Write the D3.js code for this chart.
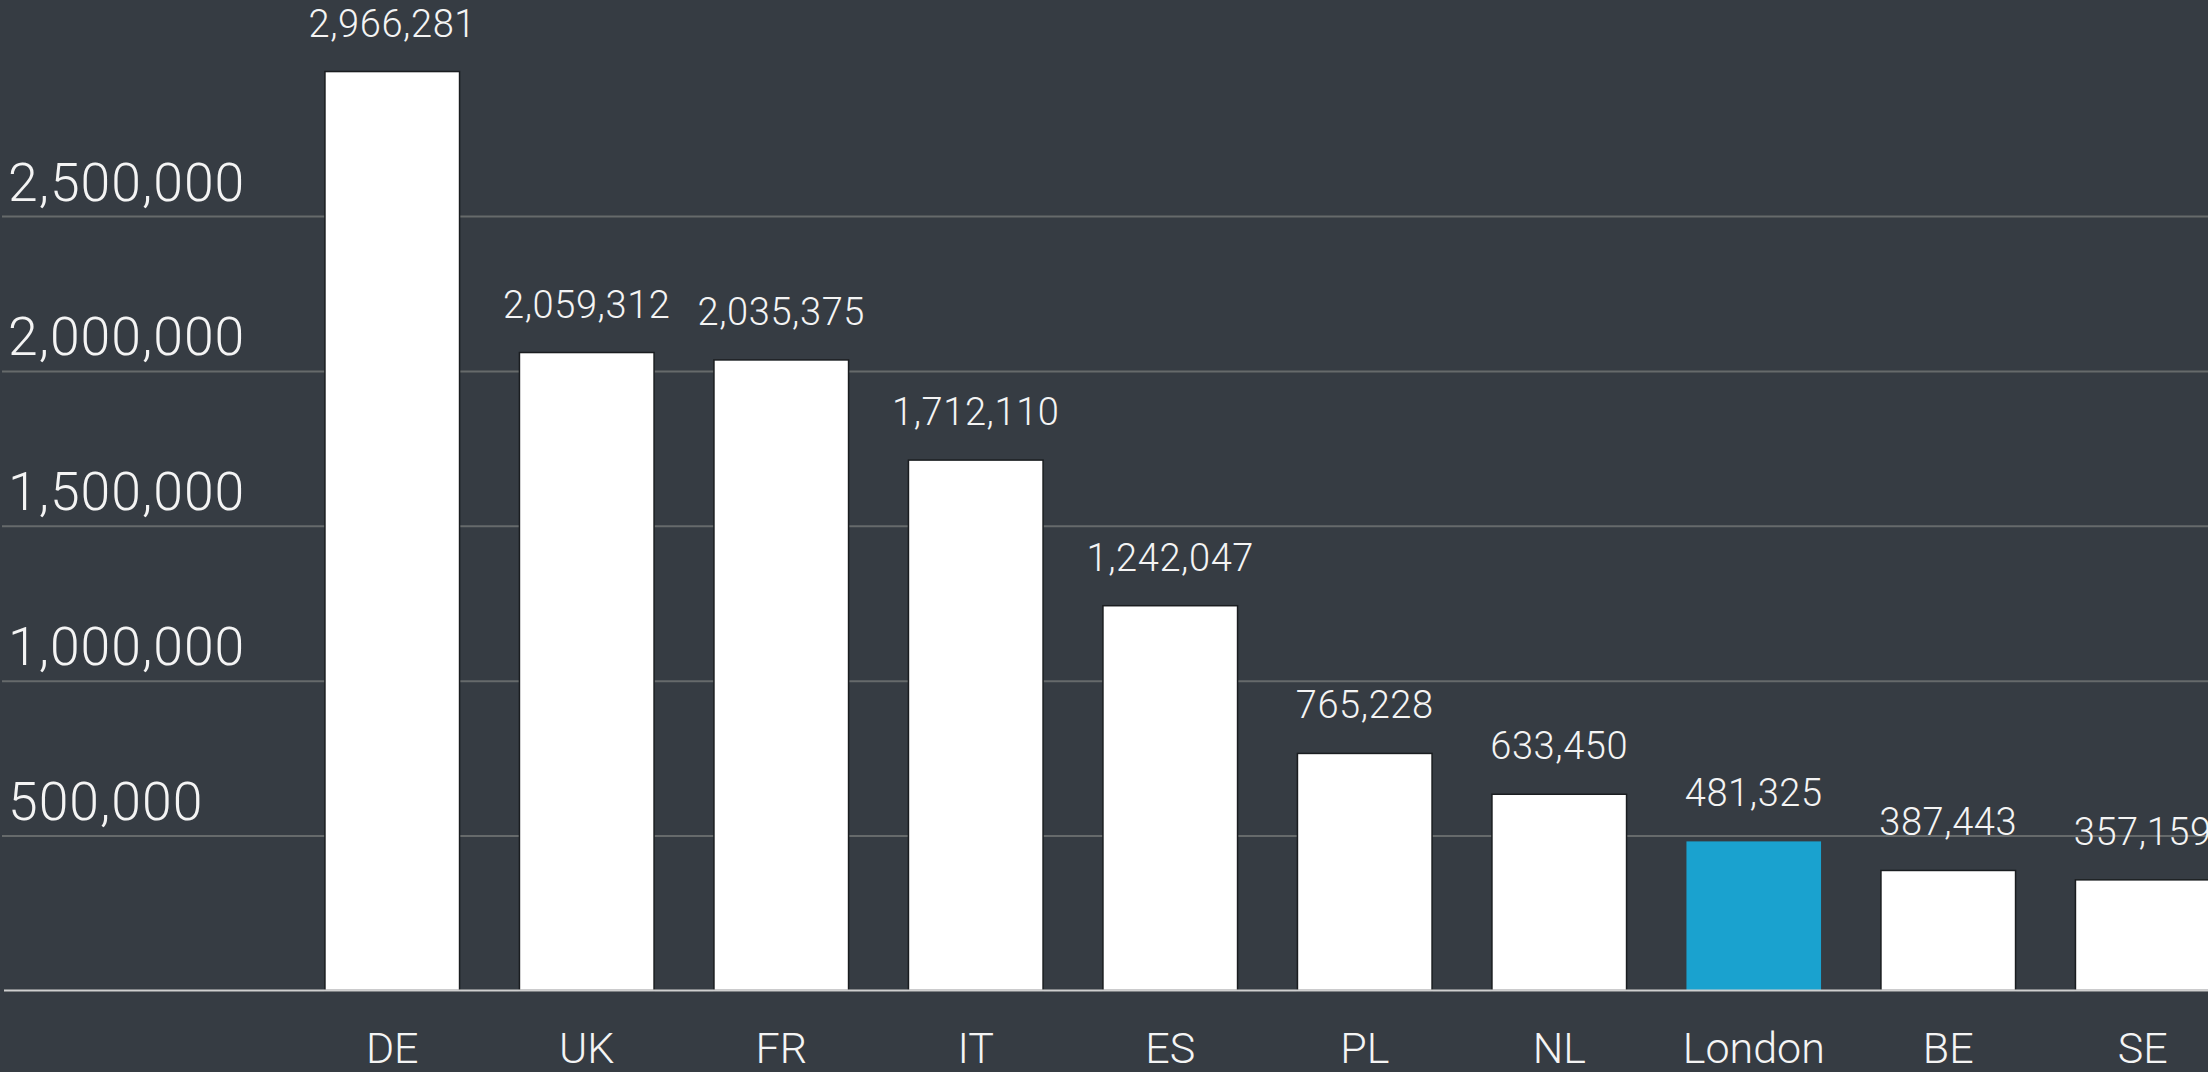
<!DOCTYPE html>
<html>
<head>
<meta charset="utf-8">
<script src="https://cdn.jsdelivr.net/npm/d3@7"></script>
<style>
    html, body { margin: 0; padding: 0; background: #363c43; overflow: hidden; }
    text { font-family: "Roboto", "Helvetica Neue", sans-serif; font-weight: 300; fill: #f4f4f4; }
</style>
</head>
<body>
<div id="chart"></div>
<script>
/*
 * Chart data.
 */
var categories = ['DE', 'UK', 'FR', 'IT', 'ES', 'PL', 'NL', 'London', 'BE', 'SE'];
var values     = [2966281, 2059312, 2035375, 1712110, 1242047, 765228, 633450, 481325, 387443, 357159];
var highlight  = ['London'];
var yTicks     = [500000, 1000000, 1500000, 2000000, 2500000];

/**
 * Bar chart.
 * @public
 * @class
 */
function BarChart() {
    /**
     * Outer dimensions.
     * @private
     */
    this._width  = 2208;
    this._height = 1072;
    /**
     * Scale functions.
     * @private
     */
    this._xScale = d3.scaleBand()
        .domain(categories)
        .range([295, 2240])
        .paddingInner(0.308)
        .paddingOuter(0.154);
    this._yScale = d3.scaleLinear()
        .domain([0, 2500000])
        .range([990.5, 216]);
}


/**
 * Render chart.
 * @public
 * @param {String} selection
 * @returns {BarChart}
 */
BarChart.prototype.renderTo = function(selection) {

    var data = categories.map(function(c, i) {
        return { name: c, value: values[i] };
    });
    var fmt = d3.format(',');

    this._svg = d3.select(selection).append('svg')
        .attr('width', this._width)
        .attr('height', this._height);
    /*
     * Grid lines and y tick labels.
     */
    var yAxis = this._svg.append('g')
        .attr('transform', 'translate(2,0)')
        .call(d3.axisRight(this._yScale)
            .tickValues(yTicks)
            .tickSize(this._width)
            .tickFormat(fmt));

    yAxis.select('.domain').remove();
    yAxis.selectAll('.tick line')
        .attr('stroke', '#666a6b')
        .attr('stroke-width', 2);
    yAxis.selectAll('.tick text')
        .attr('x', 6)
        .attr('dy', -16)
        .attr('text-anchor', 'start')
        .style('font-size', '53.5px')
        .style('letter-spacing', '1px')
        .attr('fill', '#f4f4f4');
    /*
     * Bars.
     */
    this._svg.append('g')
        .selectAll('rect')
        .data(data)
        .join('rect')
        .attr('x', d => this._xScale(d.name))
        .attr('y', d => this._yScale(d.value))
        .attr('width', this._xScale.bandwidth())
        .attr('height', d => this._yScale(0) - this._yScale(d.value))
        .attr('fill', d => highlight.indexOf(d.name) >= 0 ? '#1aa2cf' : '#ffffff')
        .attr('stroke', d => highlight.indexOf(d.name) >= 0 ? 'none' : '#1a1d20')
        .attr('stroke-width', 1.5);
    /*
     * Value labels.
     */
    this._svg.append('g')
        .selectAll('text')
        .data(data)
        .join('text')
        .attr('x', d => this._xScale(d.name) + this._xScale.bandwidth() / 2)
        .attr('y', d => this._yScale(d.value) - 35)
        .attr('text-anchor', 'middle')
        .style('font-size', '38px')
        .style('letter-spacing', '0.6px')
        .text(d => fmt(d.value));
    /*
     * Baseline.
     */
    this._svg.append('line')
        .attr('x1', 4)
        .attr('x2', this._width)
        .attr('y1', this._yScale(0))
        .attr('y2', this._yScale(0))
        .attr('stroke', '#cfcfcf')
        .attr('stroke-width', 2);
    /*
     * Category axis.
     */
    var xAxis = this._svg.append('g')
        .attr('transform', 'translate(0,' + this._yScale(0) + ')')
        .call(d3.axisBottom(this._xScale).tickSize(0));

    xAxis.select('.domain').remove();
    xAxis.selectAll('.tick text')
        .attr('y', 72)
        .attr('dy', 0)
        .style('font-size', '43px')
        .attr('fill', '#f4f4f4');

    return this;
};


new BarChart().renderTo('#chart');
</script>
</body>
</html>
